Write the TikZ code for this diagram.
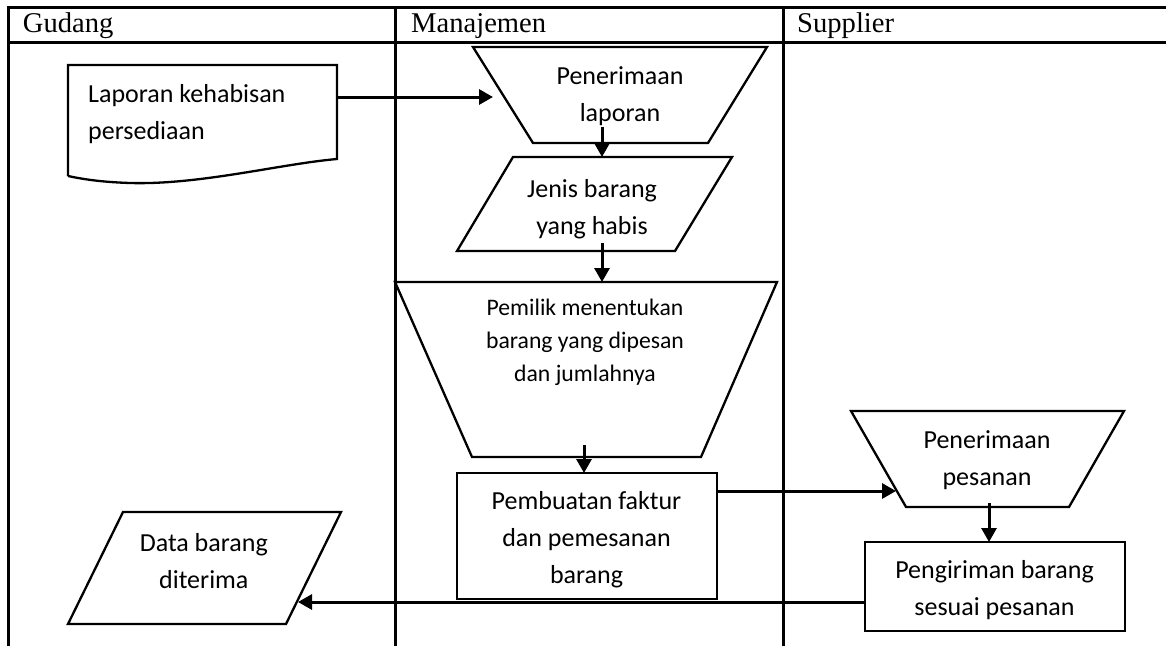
\documentclass[tikz,border=0pt]{standalone}
\usepackage{fontspec}
\setmainfont{Carlito}
\newfontfamily\headfont{Liberation Serif}
\usetikzlibrary{arrows.meta}
\begin{document}
\begin{tikzpicture}[x=1pt,y=-1pt,
  grid/.style={line width=3pt},
  shapebox/.style={line width=2.3pt, line join=miter},
  flow/.style={line width=3pt, -{Triangle[length=14pt,width=15pt]}},
  lanehead/.style={font=\headfont\fontsize{28.6}{34}\selectfont, anchor=base west, inner sep=0pt},
  boxtext/.style={font=\fontsize{26}{37}\selectfont, align=center, inner sep=0pt},
  smalltext/.style={font=\fontsize{23.7}{33}\selectfont, align=center, inner sep=0pt}]
\useasboundingbox (0,0) rectangle (1166,646);

% swimlane table
\draw[grid] (1166,7) -- (8,7) -- (8,646);
\draw[grid] (8,42) -- (1166,42);
\draw[grid] (395,7) -- (395,646);
\draw[grid] (783,7) -- (783,646);
\node[lanehead] (hG) at (22.7,32.5) {Gudang};
\node[lanehead] (hM) at (411,32.5) {Manajemen};
\node[lanehead] (hS) at (797,32.5) {Supplier};

% document: Laporan kehabisan persediaan
\draw[shapebox] (68,176) -- (68,65) -- (337,65) -- (337,159)
  .. controls (280,164) and (200,185) .. (130,183)
  .. controls (100,182) and (82,179) .. (68,176);
\node[boxtext, align=left, anchor=west] (lap) at (88,114) {Laporan kehabisan\\persediaan};
\coordinate (lapOut) at (337,97);

% manual operation: Penerimaan laporan
\draw[shapebox] (473,47) -- (767,47) -- (708,143) -- (533,143) -- cycle;
\node[boxtext] (terima) at (620,96.5) {Penerimaan\\laporan};
\coordinate (terimaIn) at (493,97);
\coordinate (terimaOut) at (602,127);

% data: Jenis barang yang habis
\draw[shapebox] (513,157) -- (732,157) -- (675,251) -- (457,251) -- cycle;
\node[boxtext] (jenis) at (592,209.5) {Jenis barang\\yang habis};
\coordinate (jenisIn) at (602,157);
\coordinate (jenisOut) at (602,243);

% manual operation: Pemilik menentukan
\draw[shapebox] (395,282) -- (777,282) -- (701,457) -- (472,457) -- cycle;
\node[smalltext] (pemilik) at (585,342) {Pemilik menentukan\\barang yang dipesan\\dan jumlahnya};
\coordinate (pemilikIn) at (602,282);
\coordinate (pemilikOut) at (584,445);

% process: Pembuatan faktur
\draw[shapebox] (457,473) rectangle (717,599);
\node[boxtext] (faktur) at (586.5,539.5) {Pembuatan faktur\\dan pemesanan\\barang};
\coordinate (fakturIn) at (584,473);
\coordinate (fakturOut) at (717,491);

% manual operation: Penerimaan pesanan
\draw[shapebox] (851,411) -- (1124,411) -- (1069,507) -- (906,507) -- cycle;
\node[boxtext] (pesan) at (987,460) {Penerimaan\\pesanan};
\coordinate (pesanIn) at (896,491);
\coordinate (pesanOut) at (989,503);

% process: Pengiriman barang
\draw[shapebox] (865,542) rectangle (1125,631);
\node[boxtext] (kirim) at (994.5,590) {Pengiriman barang\\sesuai pesanan};
\coordinate (kirimIn) at (989,542);
\coordinate (kirimOut) at (865,602);

% data: Data barang diterima
\draw[shapebox] (123,512) -- (341,512) -- (286,624) -- (68,624) -- cycle;
\node[boxtext] (data) at (203.8,561) {Data barang\\diterima};
\coordinate (dataIn) at (298,602);

% flow
\draw[flow] (lapOut) -- (terimaIn);
\draw[flow] (terimaOut) -- (jenisIn);
\draw[flow] (jenisOut) -- (pemilikIn);
\draw[flow] (pemilikOut) -- (fakturIn);
\draw[flow] (fakturOut) -- (pesanIn);
\draw[flow] (pesanOut) -- (kirimIn);
\draw[flow] (kirimOut) -- (dataIn);
\end{tikzpicture}
\end{document}
